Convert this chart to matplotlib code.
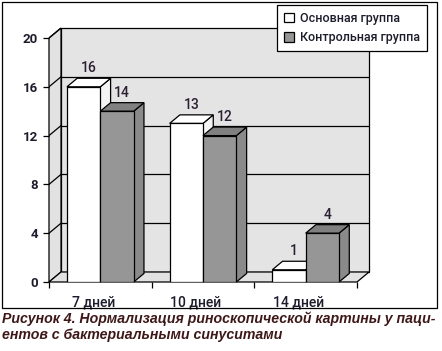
import matplotlib
matplotlib.use("Agg")
import matplotlib.pyplot as plt
from matplotlib.patches import Polygon, Patch, Rectangle

# data
categories = ["7 дней", "10 дней", "14 дней"]
series_names = ["Основная группа", "Контрольная группа"]
main_group = [16, 13, 1]
control_group = [14, 12, 4]
yticks = [0, 4, 8, 12, 16, 20]
caption1 = "Рисунок 4. Нормализация риноскопической картины у паци-"
caption2 = "ентов с бактериальными синуситами"

W, H = 442, 351
fig = plt.figure(figsize=(W / 100, H / 100), dpi=100)

FONT = "Roboto"
TXT = "#1c1c2c"

# wall depth and bar depth (data units)
wdx, wdy = 0.117, 0.82
bdx, bdy = 0.10, 0.70
ymax = 20
ncat = len(categories)

# axes placed so that (0,0) -> px(49,282), (3+wdx, 20+wdy) -> px(369,28)
ax = fig.add_axes([49 / W, 1 - 282 / H, (369 - 49) / W, (282 - 28) / H])
ax.set_xlim(0, ncat + wdx)
ax.set_ylim(0, ymax + wdy)
for s in ax.spines.values():
    s.set_visible(False)

lw = 0.9
wall = "#e4e4e4"

def poly(pts, fc, z):
    ax.add_patch(Polygon(pts, closed=True, facecolor=fc, edgecolor="black",
                         linewidth=lw, zorder=z, clip_on=False))

# back wall, side wall, floor
poly([(wdx, wdy), (ncat + wdx, wdy), (ncat + wdx, ymax + wdy), (wdx, ymax + wdy)], wall, 1)
poly([(0, 0), (wdx, wdy), (wdx, ymax + wdy), (0, ymax)], "#e2e2e2", 1)
poly([(0, 0), (ncat, 0), (ncat + wdx, wdy), (wdx, wdy)], "#e2e2e2", 1)

for y in yticks[1:-1]:
    ax.plot([wdx, ncat + wdx], [y + wdy, y + wdy], color="black", lw=lw, zorder=2)
for y in yticks[1:]:
    ax.plot([0, wdx], [y, y + wdy], color="black", lw=lw, zorder=2)

# bars
bw = 0.325
def bar3d(x0, h, front, top, side):
    poly([(x0 + bw, 0), (x0 + bw + bdx, bdy), (x0 + bw + bdx, h + bdy), (x0 + bw, h)], side, 3)
    poly([(x0, h), (x0 + bw, h), (x0 + bw + bdx, h + bdy), (x0 + bdx, h + bdy)], top, 3)
    ax.add_patch(Rectangle((x0, 0), bw, h, facecolor=front, edgecolor="black",
                           linewidth=lw, zorder=3))
    ax.annotate(str(h), (x0 + bw / 2 + bdx / 2, h + bdy), xytext=(0, 2),
                textcoords="offset points", ha="center", va="bottom",
                fontsize=10, color="#2a1f33", family=FONT, fontweight="medium", zorder=5)

for i in range(ncat):
    bar3d(i + 0.175, main_group[i], "white", "white", "#f4f4f4")
    bar3d(i + 0.5, control_group[i], "#969696", "#808080", "#8a8a8a")

# axes ticks
ax.set_yticks(yticks)
ax.set_yticklabels([str(v) for v in yticks], fontsize=9.5, family=FONT,
                   fontweight="bold", color=TXT)
ax.tick_params(axis="y", length=4, width=lw, direction="out", pad=4)
ax.set_xticks(range(ncat + 1))
ax.set_xticklabels([])
ax.tick_params(axis="x", which="major", length=4, width=lw, direction="out")
ax.set_xticks([i + 0.43 for i in range(ncat)], minor=True)
ax.set_xticklabels(categories, minor=True, fontsize=10, family=FONT,
                   fontweight="medium", color=TXT)
ax.tick_params(axis="x", which="minor", length=0, pad=10)

# legend
handles = [Patch(facecolor="white", edgecolor="black", linewidth=lw),
           Patch(facecolor="#969696", edgecolor="black", linewidth=lw)]
leg = fig.legend(handles, series_names, loc="upper left",
                 bbox_to_anchor=(277 / W, 1 - 5 / H), borderaxespad=0,
                 fancybox=False, framealpha=1, edgecolor="black",
                 handlelength=0.8, handleheight=0.8, handletextpad=0.5,
                 labelspacing=0.5, borderpad=0.55,
                 prop={"family": FONT, "size": 9, "weight": "medium"})
leg.get_frame().set_linewidth(lw)
for t in leg.get_texts():
    t.set_color(TXT)

# outer frame
fig.add_artist(Rectangle((2 / W, 1 - 308 / H), 435 / W, 306 / H, transform=fig.transFigure,
                         facecolor="none", edgecolor="black", linewidth=lw))

# caption
for txt, yb in [(caption1, 323), (caption2, 339)]:
    fig.text(2 / W, 1 - yb / H, txt, ha="left", va="baseline", fontsize=10.15,
             family="Liberation Sans", fontweight="bold", fontstyle="italic",
             color="#3e1818")

fig.savefig("out.png", dpi=100)
